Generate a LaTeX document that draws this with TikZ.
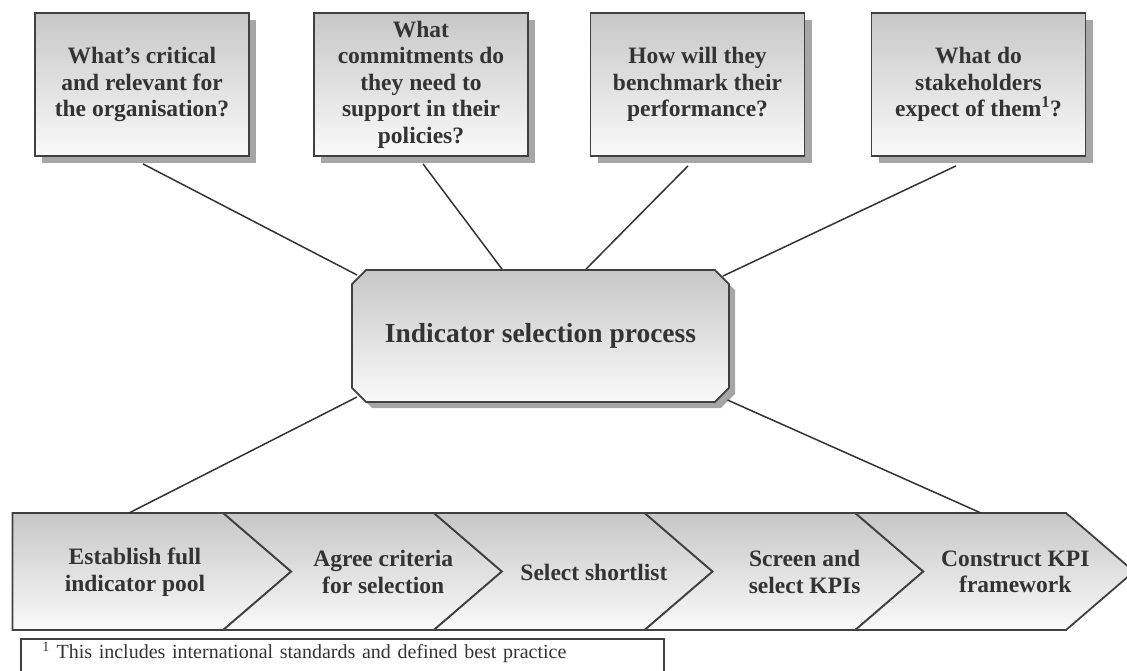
\documentclass[tikz,border=0pt]{standalone}
\usepackage{fontspec}
\setmainfont{Liberation Serif}
\usetikzlibrary{shapes.misc,shadows}

\tikzstyle{question}=[draw=black!75, line width=1.8pt, top color=black!22, bottom color=black!2, minimum width=214pt, minimum height=143pt, align=center, text=black!80, font=\bfseries\fontsize{23.5}{26.5}\selectfont, drop shadow={shadow xshift=7pt, shadow yshift=-7pt, fill=black!35, opacity=1}]
\tikzstyle{hub}=[chamfered rectangle, chamfered rectangle xsep=11pt, draw=black!75, line width=1.8pt, top color=black!22, bottom color=black!2, minimum width=377pt, minimum height=132pt, text=black!80, font=\bfseries\fontsize{27.5}{30}\selectfont, drop shadow={shadow xshift=6pt, shadow yshift=-6pt, fill=black!35, opacity=1}]
\tikzstyle{stage}=[draw=black!75, line width=1.8pt, top color=black!22, bottom color=black!2]
\tikzstyle{stagetext}=[align=center, text=black!80, font=\bfseries\fontsize{23.5}{26.5}\selectfont]
\tikzstyle{note}=[draw=black!75, line width=1.8pt, anchor=north west, text width=600pt, inner xsep=21.5pt, inner ysep=3pt, text depth=22pt, align=left, text=black!80, font=\fontsize{20}{22}\selectfont]
\tikzstyle{link}=[line width=1.5pt, draw=black!80]

\begin{document}
\begin{tikzpicture}[x=1pt, y=-1pt]
  \useasboundingbox (0,0) rectangle (1127,670);

  % questions
  \node[question] (q1) at (142, 84.5) {What's critical\\and relevant for\\the organisation?};
  \node[question] (q2) at (421, 84.5) {What\\commitments do\\they need to\\support in their\\policies?};
  \node[question] (q3) at (697.5, 84.5) {How will they\\benchmark their\\performance?};
  \node[question] (q4) at (978.5, 84.5) {What do\\stakeholders\\expect of them\textsuperscript{1}?};

  \node[hub] (proc) at (540.5, 336) {Indicator selection process};

  % process chevrons
  \foreach \i/\lbl in {0/{Establish full\\indicator pool}, 1/{Agree criteria\\for selection}, 2/{Select shortlist}, 3/{Screen and\\select KPIs}, 4/{Construct KPI\\framework}} {
    \pgfmathsetmacro{\lx}{12.5+210.7*\i}
    \pgfmathsetmacro{\nd}{\i==0 ? 0 : 68}
    \pgfmathsetmacro{\tx}{\lx + (\i==0 ? 122.5 : 160)}
    \path[stage] (\lx,513) -- ++(210.7,0) -- ++(68,58.5) -- ++(-68,58.5) -- ++(-210.7,0) -- ++(\nd,-58.5) -- cycle;
    \node[stagetext] (s\i) at (\tx, 572) {\lbl};
  }
  \coordinate (c0) at (129, 513);
  \coordinate (c4) at (981, 513);

  \node[note] (fn) at (20, 638) {\textsuperscript{1} This includes international standards and defined best practice};

  \draw[link] ([shift={(1,7)}]q1.south) -- ([shift={(-183.5,-61)}]proc.center);
  \draw[link] ([shift={(2,7)}]q2.south) -- ([shift={(-38.5,0)}]proc.north);
  \draw[link] ([shift={(-9.5,9)}]q3.south) -- ([shift={(45.5,0)}]proc.north);
  \draw[link] ([shift={(-22.5,9)}]q4.south) -- ([shift={(182.5,-60)}]proc.center);
  \draw[link] ([shift={(-183.5,61)}]proc.center) -- (c0);
  \draw[link] ([shift={(187,64)}]proc.center) -- (c4);
\end{tikzpicture}
\end{document}
